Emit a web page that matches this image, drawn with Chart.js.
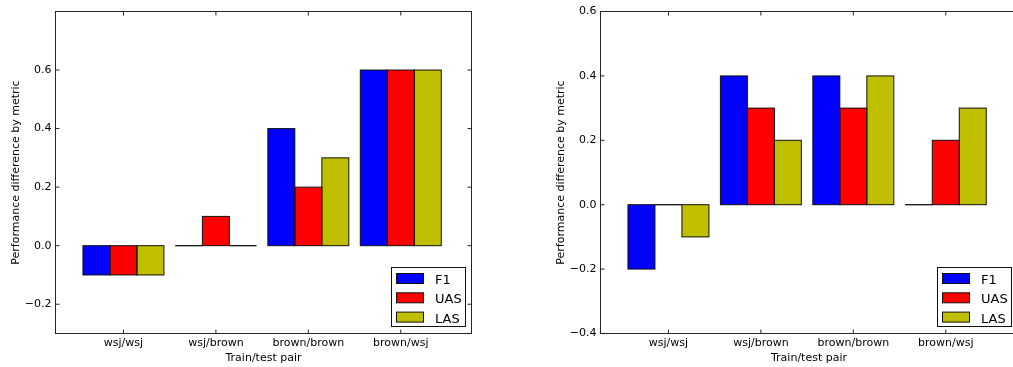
<!DOCTYPE html>
<html>
<head>
<meta charset="utf-8">
<script src="https://cdn.jsdelivr.net/npm/chart.js@4.4.0/dist/chart.umd.min.js"></script>
<style>
  html, body { margin: 0; padding: 0; background: #fff; overflow: hidden; }
  #wrap { position: relative; width: 1013px; height: 367px; overflow: hidden; background: #fff; }
  canvas { position: absolute; top: 0; }
  #left { left: 0; }
  #right { left: 545px; }
</style>
</head>
<body>
<div id="wrap">
  <canvas id="left" width="500" height="367"></canvas>
  <canvas id="right" width="500" height="367"></canvas>
</div>
<script>
// Train/test pairs on the x axis
const pairs = ['wsj/wsj', 'wsj/brown', 'brown/brown', 'brown/wsj'];
const metrics = ['F1', 'UAS', 'LAS'];
const metricColors = ['#0000ff', '#ff0000', '#bfbf00'];

// Left panel: performance difference per metric
const leftF1  = [-0.1, 0.0, 0.4, 0.6];
const leftUAS = [-0.1, 0.1, 0.2, 0.6];
const leftLAS = [-0.1, 0.0, 0.3, 0.6];
const leftYTicks = [-0.2, 0.0, 0.2, 0.4, 0.6];

// Right panel: performance difference per metric
const rightF1  = [-0.2, 0.4, 0.4, 0.0];
const rightUAS = [0.0, 0.3, 0.3, 0.2];
const rightLAS = [-0.1, 0.2, 0.4, 0.3];
const rightYTicks = [-0.4, -0.2, 0.0, 0.2, 0.4, 0.6];

const xTickValues = pairs.map((_, i) => i);

Chart.defaults.font.family = '"DejaVu Sans", sans-serif';
Chart.defaults.font.size = 11;
Chart.defaults.color = '#000';

const fmt = v => (v < 0 ? '\u2212' : '') + Math.abs(v).toFixed(1);

// Bar outlines, axis frame and inward tick marks
const framePlugin = {
  id: 'frame',
  afterDatasetsDraw(chart) {
    const ctx = chart.ctx;
    const area = chart.chartArea;
    ctx.save();
    // bar edges (zero-height bars show as a flat line)
    ctx.strokeStyle = '#111';
    ctx.lineWidth = 1;
    chart.data.datasets.forEach((ds, di) => {
      const meta = chart.getDatasetMeta(di);
      meta.data.forEach(el => {
        const p = el.getProps(['x', 'y', 'base', 'width'], true);
        const top = Math.min(p.y, p.base);
        const h = Math.abs(p.base - p.y);
        ctx.strokeRect(p.x - p.width / 2, top, p.width, h);
      });
    });
    // frame
    ctx.strokeStyle = '#262626';
    ctx.strokeRect(area.left, area.top, area.right - area.left, area.bottom - area.top);
    // inward ticks
    const tl = 4;
    ctx.beginPath();
    const ys = chart.scales.y;
    ys.ticks.forEach(t => {
      const py = ys.getPixelForValue(t.value);
      ctx.moveTo(area.left, py); ctx.lineTo(area.left + tl, py);
      ctx.moveTo(area.right, py); ctx.lineTo(area.right - tl, py);
    });
    const xs = chart.scales.x;
    xs.ticks.forEach(t => {
      const px = xs.getPixelForValue(t.value);
      ctx.moveTo(px, area.top); ctx.lineTo(px, area.top + tl);
      ctx.moveTo(px, area.bottom); ctx.lineTo(px, area.bottom - tl);
    });
    ctx.stroke();
    ctx.restore();
  },
  afterDraw(chart) {
    // legend box in the lower right corner of the plot area
    const ctx = chart.ctx;
    const area = chart.chartArea;
    const boxW = 74, boxH = 59;
    const bx = Math.round(area.right - 6 - boxW) - 0.5;
    const by = area.bottom - 7 - boxH;
    ctx.save();
    ctx.fillStyle = '#fff';
    ctx.fillRect(bx, by, boxW, boxH);
    ctx.strokeStyle = '#111';
    ctx.lineWidth = 1;
    ctx.strokeRect(bx, by, boxW, boxH);
    ctx.font = '13px "DejaVu Sans", sans-serif';
    ctx.textBaseline = 'alphabetic';
    ctx.textAlign = 'left';
    chart.data.datasets.forEach((ds, i) => {
      const py = by + 6 + i * 19.3;
      ctx.fillStyle = ds.backgroundColor;
      ctx.fillRect(bx + 5, py, 27, 10);
      ctx.strokeStyle = '#111';
      ctx.strokeRect(bx + 5, py, 27, 10);
      ctx.fillStyle = '#000';
      ctx.fillText(ds.label, bx + 43.5, py + 10.5);
    });
    ctx.restore();
  }
};

function makeChart(id, series, yTicks, yMin, yMax, xMax, padRight) {
  return new Chart(document.getElementById(id), {
    type: 'bar',
    data: {
      datasets: metrics.map((m, k) => ({
        label: m,
        data: series[k].map((v, i) => ({ x: i, y: v })),
        backgroundColor: metricColors[k],
        borderWidth: 0,
        categoryPercentage: 0.876,
        barPercentage: 1.0
      }))
    },
    options: {
      responsive: false,
      animation: false,
      layout: { padding: { top: 11.5, right: padRight, left: 0, bottom: 0 } },
      plugins: { legend: { display: false }, tooltip: { enabled: false } },
      scales: {
        x: {
          type: 'linear',
          min: -0.735,
          max: xMax,
          offset: false,
          bounds: 'data',
          grid: { display: false, drawTicks: false, offset: false },
          border: { display: false },
          afterBuildTicks: s => { s.ticks = xTickValues.map(v => ({ value: v })); },
          afterFit: s => { s.height = 33.5; },
          ticks: {
            padding: 3.5,
            maxRotation: 0,
            autoSkip: false,
            font: { size: 11 },
            callback: v => pairs[v]
          },
          title: {
            display: true,
            text: 'Train/test pair',
            font: { size: 11 },
            padding: { top: 0, bottom: 2 }
          }
        },
        y: {
          type: 'linear',
          min: yMin,
          max: yMax,
          bounds: 'data',
          grid: { display: false, drawTicks: false },
          border: { display: false },
          afterBuildTicks: s => { s.ticks = yTicks.map(v => ({ value: v })); },
          afterFit: s => { s.width = 55.5; },
          ticks: {
            padding: 4,
            font: { size: 11 },
            callback: v => fmt(v)
          },
          title: {
            display: true,
            text: 'Performance difference by metric',
            font: { size: 11 },
            padding: { top: 10, bottom: 0 }
          }
        }
      }
    },
    plugins: [framePlugin]
  });
}

makeChart('left', [leftF1, leftUAS, leftLAS], leftYTicks, -0.3, 0.8, 3.765, 28.5);
makeChart('right', [rightF1, rightUAS, rightLAS], rightYTicks, -0.4, 0.6, 3.776, 27.5);
</script>
</body>
</html>
